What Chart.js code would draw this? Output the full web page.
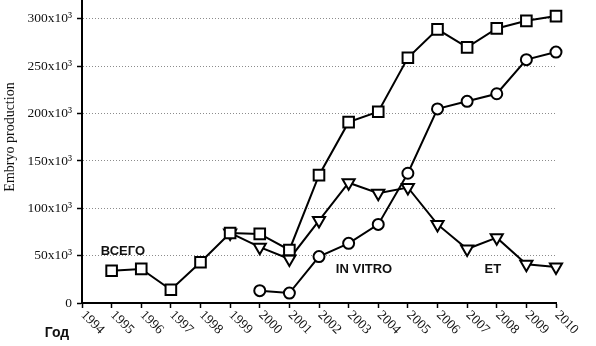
<!DOCTYPE html>
<html>
<head>
<meta charset="utf-8">
<script src="https://cdn.jsdelivr.net/npm/chart.js@4"></script>
<style>
  html, body { margin: 0; padding: 0; background: #fff; }
  #chart { display: block; }
</style>
</head>
<body>
<canvas id="chart" width="596" height="346"></canvas>
<script>
const years = [1994, 1995, 1996, 1997, 1998, 1999, 2000, 2001, 2002, 2003, 2004, 2005, 2006, 2007, 2008, 2009, 2010];
// values in thousands, null = no data for that year
const totalValues = [null, 34, 36, 14, 43, 74, 73, 56, 135, 191, 202, 259, 289, 270, 290, 298, 303];
const inVitroValues = [null, null, null, null, null, null, 13, 10.5, 49, 63, 83, 137, 205, 213, 221, 257, 265];
const etValues = [null, null, null, null, null, 74, 59, 46.5, 87, 127, 116, 122, 83, 57, 69, 41, 38];
const yTicks = [0, 50000, 100000, 150000, 200000, 250000, 300000];
const yTickLabels = ['0', '50x10³', '100x10³', '150x10³', '200x10³', '250x10³', '300x10³'];
const seriesLabels = [
  { text: 'ВСЕГО', x: 1995.38, y: 54000 },
  { text: 'IN VITRO', x: 2003.52, y: 35000 },
  { text: 'ET', x: 2007.87, y: 35000 }
];

const SERIF = '"Liberation Serif", "Times New Roman", serif';
const SANS = '"Liberation Sans", Arial, sans-serif';

function toPoints(values) {
  return years.map((yr, i) => ({ x: yr, y: values[i] == null ? null : values[i] * 1000 }));
}

const extras = {
  id: 'extras',
  afterDraw(chart) {
    const { ctx, scales: { x, y } } = chart;
    ctx.save();
    ctx.fillStyle = '#111';

    // rotated year labels going down-right
    ctx.font = `13.5px ${SERIF}`;
    ctx.textAlign = 'left';
    ctx.textBaseline = 'middle';
    years.forEach((yr) => {
      const px = x.getPixelForValue(yr);
      ctx.save();
      ctx.translate(px + 1, y.bottom + 10);
      ctx.rotate(Math.PI / 4);
      ctx.fillText(String(yr), 0, 0);
      ctx.restore();
    });

    // axis titles
    ctx.font = `bold 14px ${SANS}`;
    ctx.textAlign = 'center';
    ctx.fillText('Год', 57, 333);

    ctx.save();
    ctx.translate(10, 137);
    ctx.rotate(-Math.PI / 2);
    ctx.font = `14px ${SERIF}`;
    ctx.fillText('Embryo production', 0, 0);
    ctx.restore();

    // series names
    ctx.font = `bold 13px ${SANS}`;
    seriesLabels.forEach((l) => {
      ctx.fillText(l.text, x.getPixelForValue(l.x), y.getPixelForValue(l.y));
    });
    ctx.restore();
  }
};

const lineStyle = {
  borderColor: '#000',
  borderWidth: 2,
  pointBorderColor: '#000',
  pointBackgroundColor: '#fff',
  pointBorderWidth: 2,
  tension: 0,
  spanGaps: false
};

new Chart(document.getElementById('chart'), {
  type: 'line',
  data: {
    datasets: [
      { label: 'Total', data: toPoints(totalValues), pointStyle: 'rect', pointRadius: 7.5, ...lineStyle },
      { label: 'ET', data: toPoints(etValues), pointStyle: 'triangle', rotation: 180, pointRadius: 7, ...lineStyle },
      { label: 'In vitro', data: toPoints(inVitroValues), pointStyle: 'circle', pointRadius: 5.5, ...lineStyle }
    ]
  },
  options: {
    responsive: false,
    animation: false,
    clip: false,
    layout: { autoPadding: false, padding: { top: 0, right: 40, left: 0, bottom: 0 } },
    plugins: { legend: { display: false }, tooltip: { enabled: false } },
    scales: {
      x: {
        type: 'linear',
        min: 1994,
        max: 2010,
        afterBuildTicks: (scale) => { scale.ticks = years.map((v) => ({ value: v })); },
        afterFit: (scale) => { scale.height = 43; scale.paddingLeft = 0; scale.paddingRight = 0; },
        ticks: { display: false },
        border: { color: '#000', width: 2 },
        grid: { drawOnChartArea: false, drawTicks: true, tickLength: 5, tickColor: '#000', tickWidth: 1.5 }
      },
      y: {
        min: 0,
        max: 320000,
        afterBuildTicks: (scale) => { scale.ticks = yTicks.map((v) => ({ value: v })); },
        afterFit: (scale) => { scale.width = 82; scale.paddingTop = 0; scale.paddingBottom = 0; },
        ticks: {
          color: '#111',
          padding: 5,
          font: { family: SERIF, size: 13.5 },
          callback: (v) => yTickLabels[yTicks.indexOf(v)]
        },
        border: { color: '#000', width: 2, dash: [1, 2] },
        grid: {
          color: (c) => (c.tick && c.tick.value === 0 ? 'rgba(0,0,0,0)' : '#8c8c8c'),
          lineWidth: 1,
          tickLength: 5,
          tickColor: '#000',
          tickWidth: 1.5,
          tickBorderDash: []
        }
      }
    }
  },
  plugins: [extras]
});
</script>
</body>
</html>
